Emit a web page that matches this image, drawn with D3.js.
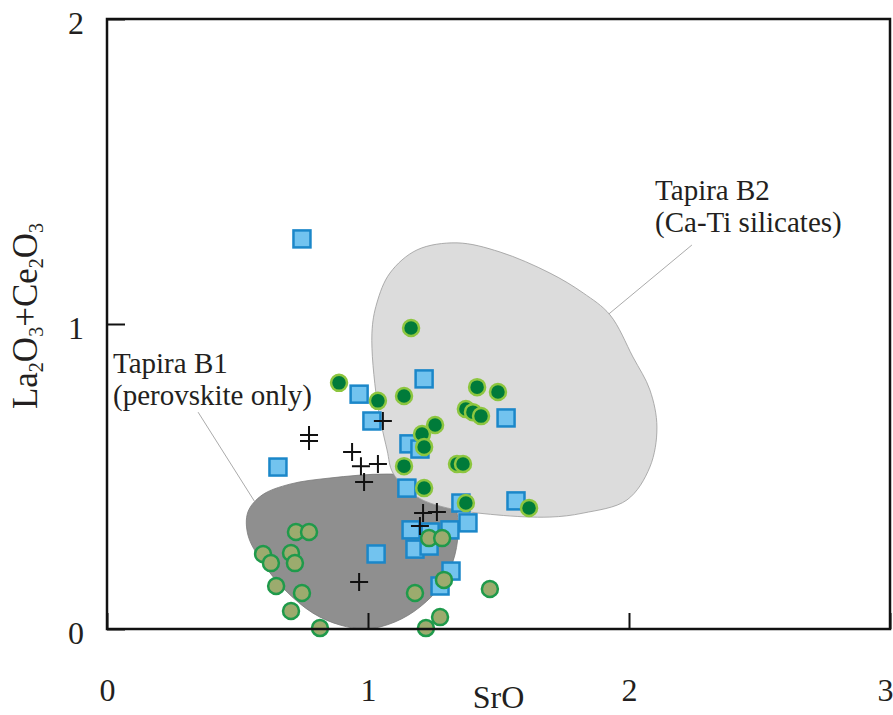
<!DOCTYPE html>
<html>
<head>
<meta charset="utf-8">
<script src="https://cdn.jsdelivr.net/npm/d3@7"></script>
<style>
  body { margin: 0; background: #fff; }
  svg text { font-family: "Liberation Serif", "Times New Roman", serif; fill: #231f20; }
</style>
</head>
<body>
<div id="chart"></div>
<script>
// axis ticks
var xTicks = [0, 1, 2, 3];
var yTicks = [0, 1, 2];

// Tapira B1 field outline (SrO, La2O3+Ce2O3)
var b1Field = [
  [0.540, 0.384], [0.594, 0.439], [0.701, 0.475], [0.854, 0.495], [1.073, 0.508],
  [1.238, 0.495], [1.322, 0.439], [1.345, 0.341], [1.333, 0.243], [1.287, 0.151],
  [1.199, 0.072], [1.103, 0.023], [0.996, 0.000], [0.893, 0.013], [0.789, 0.052],
  [0.682, 0.128], [0.594, 0.220], [0.540, 0.308]
];

// Tapira B2 field outline
var b2Field = [
  [1.341, 1.266], [1.506, 1.236], [1.697, 1.167], [1.824, 1.102], [1.927, 1.030],
  [2.015, 0.892], [2.080, 0.784], [2.107, 0.662], [2.080, 0.531], [1.992, 0.423],
  [1.824, 0.380], [1.697, 0.367], [1.494, 0.374], [1.303, 0.397], [1.188, 0.433],
  [1.096, 0.511], [1.073, 0.587], [1.034, 0.751], [1.015, 0.970], [1.034, 1.069],
  [1.084, 1.167], [1.188, 1.243]
];

// light blue squares
var squarePts = [
  [0.747, 1.279], [1.215, 0.820], [0.966, 0.770], [1.015, 0.682], [0.655, 0.531],
  [1.529, 0.692], [1.157, 0.607], [1.199, 0.590], [1.149, 0.462], [1.356, 0.413],
  [1.567, 0.420], [1.383, 0.348], [1.165, 0.325], [1.238, 0.318], [1.314, 0.325],
  [1.180, 0.262], [1.234, 0.272], [1.031, 0.246], [1.318, 0.190], [1.276, 0.141]
];

// dark green circles
var darkPts = [
  [1.165, 0.987], [0.889, 0.807], [1.038, 0.748], [1.138, 0.764], [1.418, 0.793],
  [1.498, 0.777], [1.375, 0.721], [1.402, 0.711], [1.433, 0.698], [1.257, 0.669],
  [1.207, 0.639], [1.215, 0.597], [1.138, 0.534], [1.341, 0.541], [1.364, 0.541],
  [1.215, 0.462], [1.375, 0.413], [1.617, 0.397]
];

// olive circles
var olivePts = [
  [0.724, 0.318], [0.774, 0.318], [0.598, 0.246], [0.628, 0.216], [0.705, 0.249],
  [0.720, 0.216], [0.648, 0.141], [0.747, 0.118], [0.705, 0.059], [0.816, 0.003],
  [1.234, 0.298], [1.284, 0.298], [1.180, 0.118], [1.291, 0.161], [1.467, 0.131],
  [1.276, 0.039], [1.222, 0.003]
];

// crosses
var crossPts = [
  [0.774, 0.636], [0.774, 0.616], [1.057, 0.682], [0.939, 0.580], [0.973, 0.534],
  [1.038, 0.541], [0.985, 0.482], [1.211, 0.380], [1.264, 0.384], [1.199, 0.338],
  [0.966, 0.154]
];

var fieldLabels = [
  { lines: ["Tapira B1", "(perovskite only)"], at: [0.023, 0.839], leader: [[0.349, 0.711], [0.567, 0.416]] },
  { lines: ["Tapira B2", "(Ca-Ti silicates)"], at: [2.100, 1.407], leader: [[1.923, 1.033], [2.241, 1.259]] }
];

var W = 893, H = 715;
var margin = { top: 19, right: 3, bottom: 86, left: 107 };

var x = d3.scaleLinear().domain([0, 3]).range([margin.left, W - margin.right]);
var y = d3.scaleLinear().domain([0, 2]).range([H - margin.bottom, margin.top]);

var svg = d3.select("#chart").append("svg")
    .attr("width", W)
    .attr("height", H)
    .style("font-family", "'Liberation Serif', 'Times New Roman', serif");

var outline = d3.line()
    .x(function (d) { return x(d[0]); })
    .y(function (d) { return y(d[1]); })
    .curve(d3.curveCatmullRomClosed.alpha(0.5));

svg.append("path")
    .datum(b1Field)
    .attr("d", outline)
    .attr("fill", "#8f8f8f")
    .attr("stroke", "#7a7a7a")
    .attr("stroke-width", 0.8);

svg.append("path")
    .datum(b2Field)
    .attr("d", outline)
    .attr("fill", "#dcdcdc")
    .attr("stroke", "#9a9a9a")
    .attr("stroke-width", 0.8);

// leaders + labels
fieldLabels.forEach(function (f) {
    svg.append("line")
        .attr("x1", x(f.leader[0][0])).attr("y1", y(f.leader[0][1]))
        .attr("x2", x(f.leader[1][0])).attr("y2", y(f.leader[1][1]))
        .attr("stroke", "#a0a0a0")
        .attr("stroke-width", 0.9);
    var t = svg.append("text")
        .attr("x", x(f.at[0]))
        .attr("y", y(f.at[1]))
        .style("font-size", "29px");
    f.lines.forEach(function (s, i) {
        t.append("tspan")
            .attr("x", x(f.at[0]))
            .attr("dy", i === 0 ? 0 : 32)
            .text(s);
    });
});

// points
svg.append("g").selectAll("rect")
    .data(squarePts)
    .enter().append("rect")
    .attr("x", function (d) { return x(d[0]) - 8.5; })
    .attr("y", function (d) { return y(d[1]) - 8.5; })
    .attr("width", 17)
    .attr("height", 17)
    .attr("fill", "#72c3ef")
    .attr("stroke", "#1b87c9")
    .attr("stroke-width", 2.5);

svg.append("g").selectAll("circle")
    .data(darkPts)
    .enter().append("circle")
    .attr("cx", function (d) { return x(d[0]); })
    .attr("cy", function (d) { return y(d[1]); })
    .attr("r", 8)
    .attr("fill", "#007b3a")
    .attr("stroke", "#8dc63f")
    .attr("stroke-width", 2.5);

svg.append("g").selectAll("circle")
    .data(olivePts)
    .enter().append("circle")
    .attr("cx", function (d) { return x(d[0]); })
    .attr("cy", function (d) { return y(d[1]); })
    .attr("r", 8)
    .attr("fill", "#9cab6e")
    .attr("stroke", "#1f9a4b")
    .attr("stroke-width", 2.5);

svg.append("g").selectAll("path")
    .data(crossPts)
    .enter().append("path")
    .attr("transform", function (d) { return "translate(" + x(d[0]) + "," + y(d[1]) + ")"; })
    .attr("d", "M-9,0H9M0,-9V9")
    .attr("stroke", "#111")
    .attr("stroke-width", 2);

// frame
svg.append("rect")
    .attr("x", x(0)).attr("y", y(2))
    .attr("width", x(3) - x(0))
    .attr("height", y(0) - y(2))
    .attr("fill", "none")
    .attr("stroke", "#111")
    .attr("stroke-width", 2.5);

// axes (inward ticks)
var xAxis = svg.append("g")
    .attr("transform", "translate(0," + y(0) + ")")
    .call(d3.axisBottom(x).tickValues(xTicks).tickSizeInner(-16).tickSizeOuter(0).tickPadding(49).tickFormat(d3.format("d")));
var yAxis = svg.append("g")
    .attr("transform", "translate(" + x(0) + ",0)")
    .call(d3.axisLeft(y).tickValues(yTicks).tickSizeInner(-18).tickSizeOuter(0).tickPadding(23).tickFormat(d3.format("d")));

[xAxis, yAxis].forEach(function (g) {
    g.attr("font-family", null);
    g.select(".domain").remove();
    g.selectAll(".tick line").attr("stroke", "#111").attr("stroke-width", 2);
    g.selectAll(".tick text")
        .style("font-family", "'Liberation Serif', 'Times New Roman', serif")
        .style("font-size", "32px")
        .attr("fill", "#231f20");
});
yAxis.selectAll(".tick text").attr("dy", "0.45em");
// last x label sits against the right edge
xAxis.selectAll(".tick text").filter(function (d) { return d === 3; }).attr("dx", -5);

// axis titles
svg.append("text")
    .attr("x", (x(0) + x(3)) / 2)
    .attr("y", 708)
    .attr("text-anchor", "middle")
    .style("font-size", "32px")
    .text("SrO");

var yt = svg.append("text")
    .attr("transform", "translate(37," + ((y(0) + y(2)) / 2 - 8) + ") rotate(-90)")
    .attr("text-anchor", "middle")
    .style("font-size", "35px");
[["La", 0], ["2", 1], ["O", 0], ["3", 1], ["+Ce", 0], ["2", 1], ["O", 0], ["3", 1]].forEach(function (p, i, arr) {
    var prevSub = i > 0 && arr[i - 1][1];
    var ts = yt.append("tspan").text(p[0]);
    if (p[1]) ts.attr("dy", 6).style("font-size", "20px");
    else if (prevSub) ts.attr("dy", -6);
});
</script>
</body>
</html>
